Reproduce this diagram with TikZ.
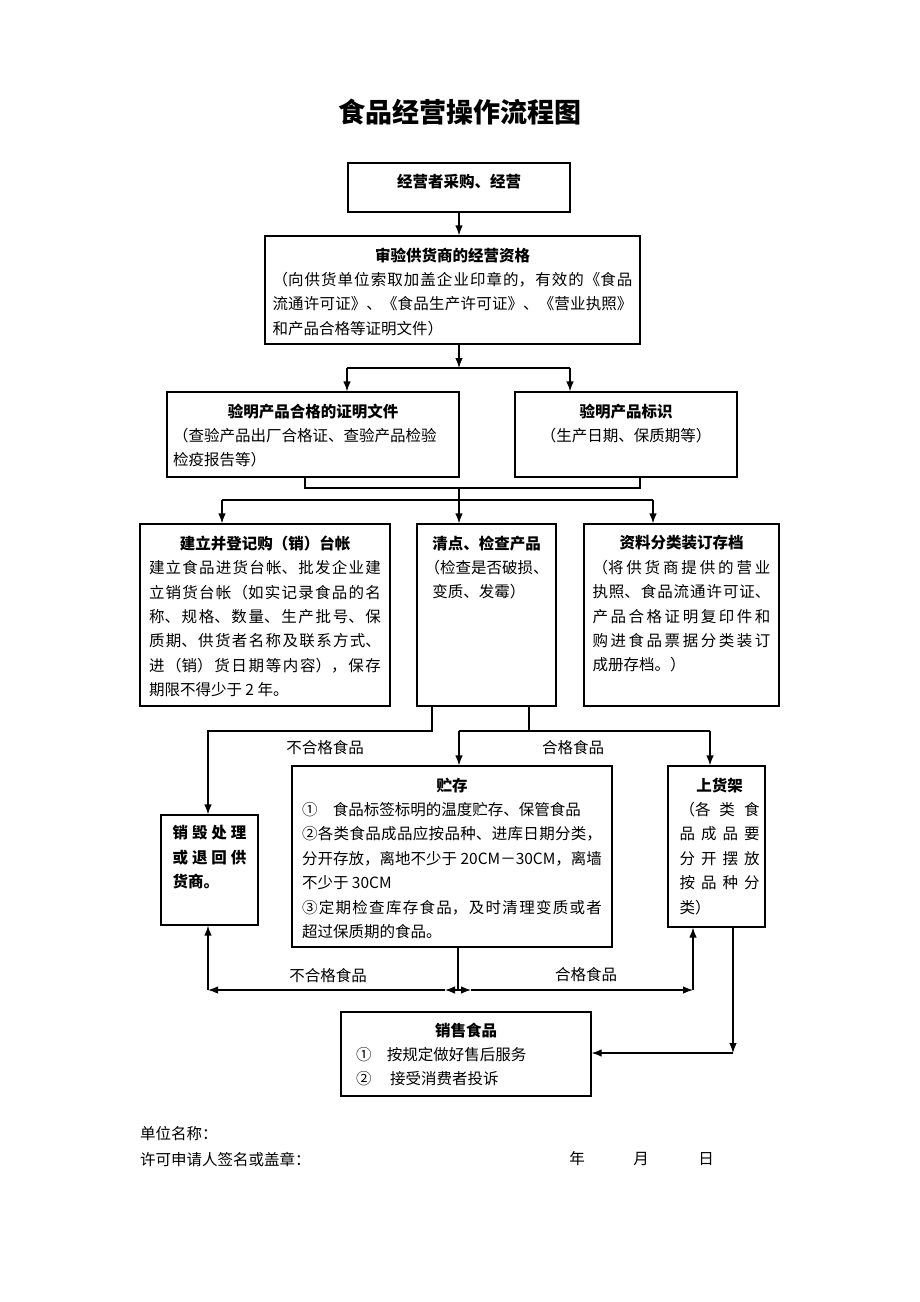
\documentclass[tikz,border=0pt]{standalone}
\usepackage{fontspec}
\setmainfont{Noto Sans CJK SC}
\usetikzlibrary{arrows.meta,positioning}
\XeTeXlinebreaklocale "zh"
\XeTeXlinebreakskip=0pt plus 3pt
\tolerance=9999
\hbadness=10000
\newcommand\bodyfs{\fontsize{15.5}{24.4}\selectfont}
\newcommand\boxhead[1]{\makebox[\linewidth]{\bfseries #1}\\}

\begin{document}
\begin{tikzpicture}[
  x=1pt, y=-1pt,
  box/.style={draw, line width=1.2pt, inner sep=0pt},
  txt/.style={inner sep=0pt, align=justify, font=\bodyfs},
  lbl/.style={inner sep=0pt, font=\bodyfs},
  link/.style={draw, line width=1.2pt},
  >={Latex[length=10pt,width=7.5pt]}
]
  \useasboundingbox (0,0) rectangle (920,1302);

  \node[font=\fontsize{27}{32}\selectfont\bfseries] (title) at (460,112) {食品经营操作流程图};

  % boxes
  \node[box, minimum width=222pt, minimum height=49pt]  (buy)     at (459,187.5) {};
  \node[box, minimum width=375pt, minimum height=108pt] (qual)    at (452.5,290) {};
  \node[box, minimum width=292pt, minimum height=85pt]  (cert)    at (313,434.5) {};
  \node[box, minimum width=222pt, minimum height=85pt]  (mark)    at (626,434.5) {};
  \node[box, minimum width=250pt, minimum height=182pt] (ledger)  at (265,615) {};
  \node[box, minimum width=139pt, minimum height=182pt] (check)   at (486.5,615) {};
  \node[box, minimum width=195pt, minimum height=182pt] (file)    at (681.5,615) {};
  \node[box, minimum width=97pt,  minimum height=110pt] (destroy) at (209.5,870) {};
  \node[box, minimum width=320pt, minimum height=181pt] (store)   at (452,856.5) {};
  \node[box, minimum width=97pt,  minimum height=161pt] (shelf)   at (716.5,846.5) {};
  \node[box, minimum width=250pt, minimum height=84pt]  (sell)    at (466,1054) {};

  % texts
  \node[txt, text width=210pt, below=12pt of buy.north] (buy-t) {\boxhead{经营者采购、经营}};
  \node[txt, text width=360pt, below=12pt of qual.north] (qual-t) {\boxhead{审验供货商的经营资格}%
    （向供货单位索取加盖企业印章的，有效的《食品\linebreak
    流通许可证》、《食品生产许可证》、《营业执照》\linebreak
    和产品合格等证明文件）};
  \node[txt, text width=280pt, below=12pt of cert.north] (cert-t) {\boxhead{验明产品合格的证明文件}%
    （查验产品出厂合格证、查验产品检验\\
    检疫报告等）};
  \node[txt, text width=200pt, below=12pt of mark.north] (mark-t) {\boxhead{验明产品标识}%
    \makebox[\linewidth]{（生产日期、保质期等）}};
  \node[txt, text width=232pt, below=12pt of ledger.north] (ledger-t) {\boxhead{建立并登记购（销）台帐}%
    建立食品进货台帐、批发企业建\linebreak
    立销货台帐（如实记录食品的名\linebreak
    称、规格、数量、生产批号、保\linebreak
    质期、供货者名称及联系方式、\linebreak
    进（销）货日期等内容），保存\linebreak
    期限不得少于 2 年。};
  \node[txt, text width=124pt, below=12pt of check.north] (check-t) {\boxhead{清点、检查产品}%
    （检查是否破损、\\
    \hspace*{0.5em}变质、发霉）};
  \node[txt, text width=178pt, below=12pt of file.north] (file-t) {\boxhead{资料分类装订存档}%
    （将供货商提供的营业\linebreak
    执照、食品流通许可证、\linebreak
    产品合格证明复印件和\linebreak
    购进食品票据分类装订\linebreak
    成册存档。）};
  \node[txt, text width=74pt, font=\bodyfs\bfseries, below=11pt of destroy.north] (destroy-t) {%
    销毁处理\linebreak
    或退回供\linebreak
    货商。};
  \node[txt, text width=300pt, below=12pt of store.north] (store-t) {\boxhead{贮存}%
    ①\hspace{1em}食品标签标明的温度贮存、保管食品\\
    ②各类食品成品应按品种、进库日期分类，\linebreak
    分开存放，离地不少于 20CM－30CM，离墙\linebreak
    不少于 30CM\\
    ③定期检查库存食品，及时清理变质或者\linebreak
    超过保质期的食品。};
  \node[txt, text width=80pt, below=12pt of shelf.north, xshift=3pt] (shelf-t) {\boxhead{上货架}%
    （各类食\linebreak
    品成品要\linebreak
    分开摆放\linebreak
    按品种分\linebreak
    类）};
  \node[txt, text width=220pt, below=11pt of sell.north] (sell-t) {\boxhead{销售食品}%
    ①\hspace{1em}按规定做好售后服务\\
    ②\hspace{1.2em}接受消费者投诉};

  % junctions
  \coordinate (j1)  at (459,368);
  \coordinate (j1l) at (347,368);
  \coordinate (j1r) at (570,368);
  \coordinate (b1)  at (305,488);
  \coordinate (b2)  at (640,488);
  \coordinate (j2)  at (459,500);
  \coordinate (j2l) at (222,500);
  \coordinate (j2r) at (653,500);
  \coordinate (c1)  at (432,731);
  \coordinate (c2)  at (529,731);
  \coordinate (d1)  at (208,731);
  \coordinate (s1)  at (459,731);
  \coordinate (s2)  at (710,731);
  \coordinate (j3)  at (458,990);
  \coordinate (j3a) at (445,990);
  \coordinate (j3b) at (471,990);
  \coordinate (j3l) at (208,990);
  \coordinate (j3r) at (693,990);
  \coordinate (k)   at (733,1053);

  % connectors
  \draw[link,->] (buy.south) -- (buy.south |- qual.north);
  \draw[link,->] (j1 |- qual.south) -- (j1);
  \draw[link] (j1l) -- (j1r);
  \draw[link,->] (j1l) -- (j1l |- cert.north);
  \draw[link,->] (j1r) -- (j1r |- mark.north);

  \draw[link] (b1 |- cert.south) -- (b1) -- (b2) -- (b2 |- mark.south);
  \draw[link] (j2 |- b1) -- (j2);
  \draw[link] (j2l) -- (j2r);
  \draw[link,->] (j2l) -- (j2l |- ledger.north);
  \draw[link,->] (j2) -- (j2 |- check.north);
  \draw[link,->] (j2r) -- (j2r |- file.north);

  \draw[link,->] (c1 |- check.south) -- (c1) -- (d1) -- (d1 |- destroy.north);
  \draw[link] (c2 |- check.south) -- (c2);
  \draw[link] (s1) -- (s2);
  \draw[link,->] (s1) -- (s1 |- store.north);
  \draw[link,->] (s2) -- (s2 |- shelf.north);
  \node[lbl] (bad1)  at (325,748) {不合格食品};
  \node[lbl] (good1) at (573,748) {合格食品};

  \draw[link] (j3 |- store.south) -- (j3);
  \draw[link,->] (j3) -- (j3a);
  \draw[link,->] (j3a) -- (j3l);
  \draw[link,->] (j3l) -- (j3l |- destroy.south);
  \draw[link,->] (j3) -- (j3b);
  \draw[link,->] (j3b) -- (j3r);
  \draw[link,->] (j3r) -- (j3r |- shelf.south);
  \node[lbl] (bad2)  at (328,976) {不合格食品};
  \node[lbl] (good2) at (586,975) {合格食品};

  \draw[link,->] (k |- shelf.south) -- (k);
  \draw[link,->] (k) -- (k -| sell.east);

  % footer
  \node[lbl, anchor=west] (unit)  at (140,1134) {单位名称：};
  \node[lbl, anchor=west] (sign)  at (140,1159) {许可申请人签名或盖章：};
  \node[lbl] (year)  at (577,1159) {年};
  \node[lbl] (month) at (641,1159) {月};
  \node[lbl] (day)   at (706,1159) {日};
\end{tikzpicture}
\end{document}
